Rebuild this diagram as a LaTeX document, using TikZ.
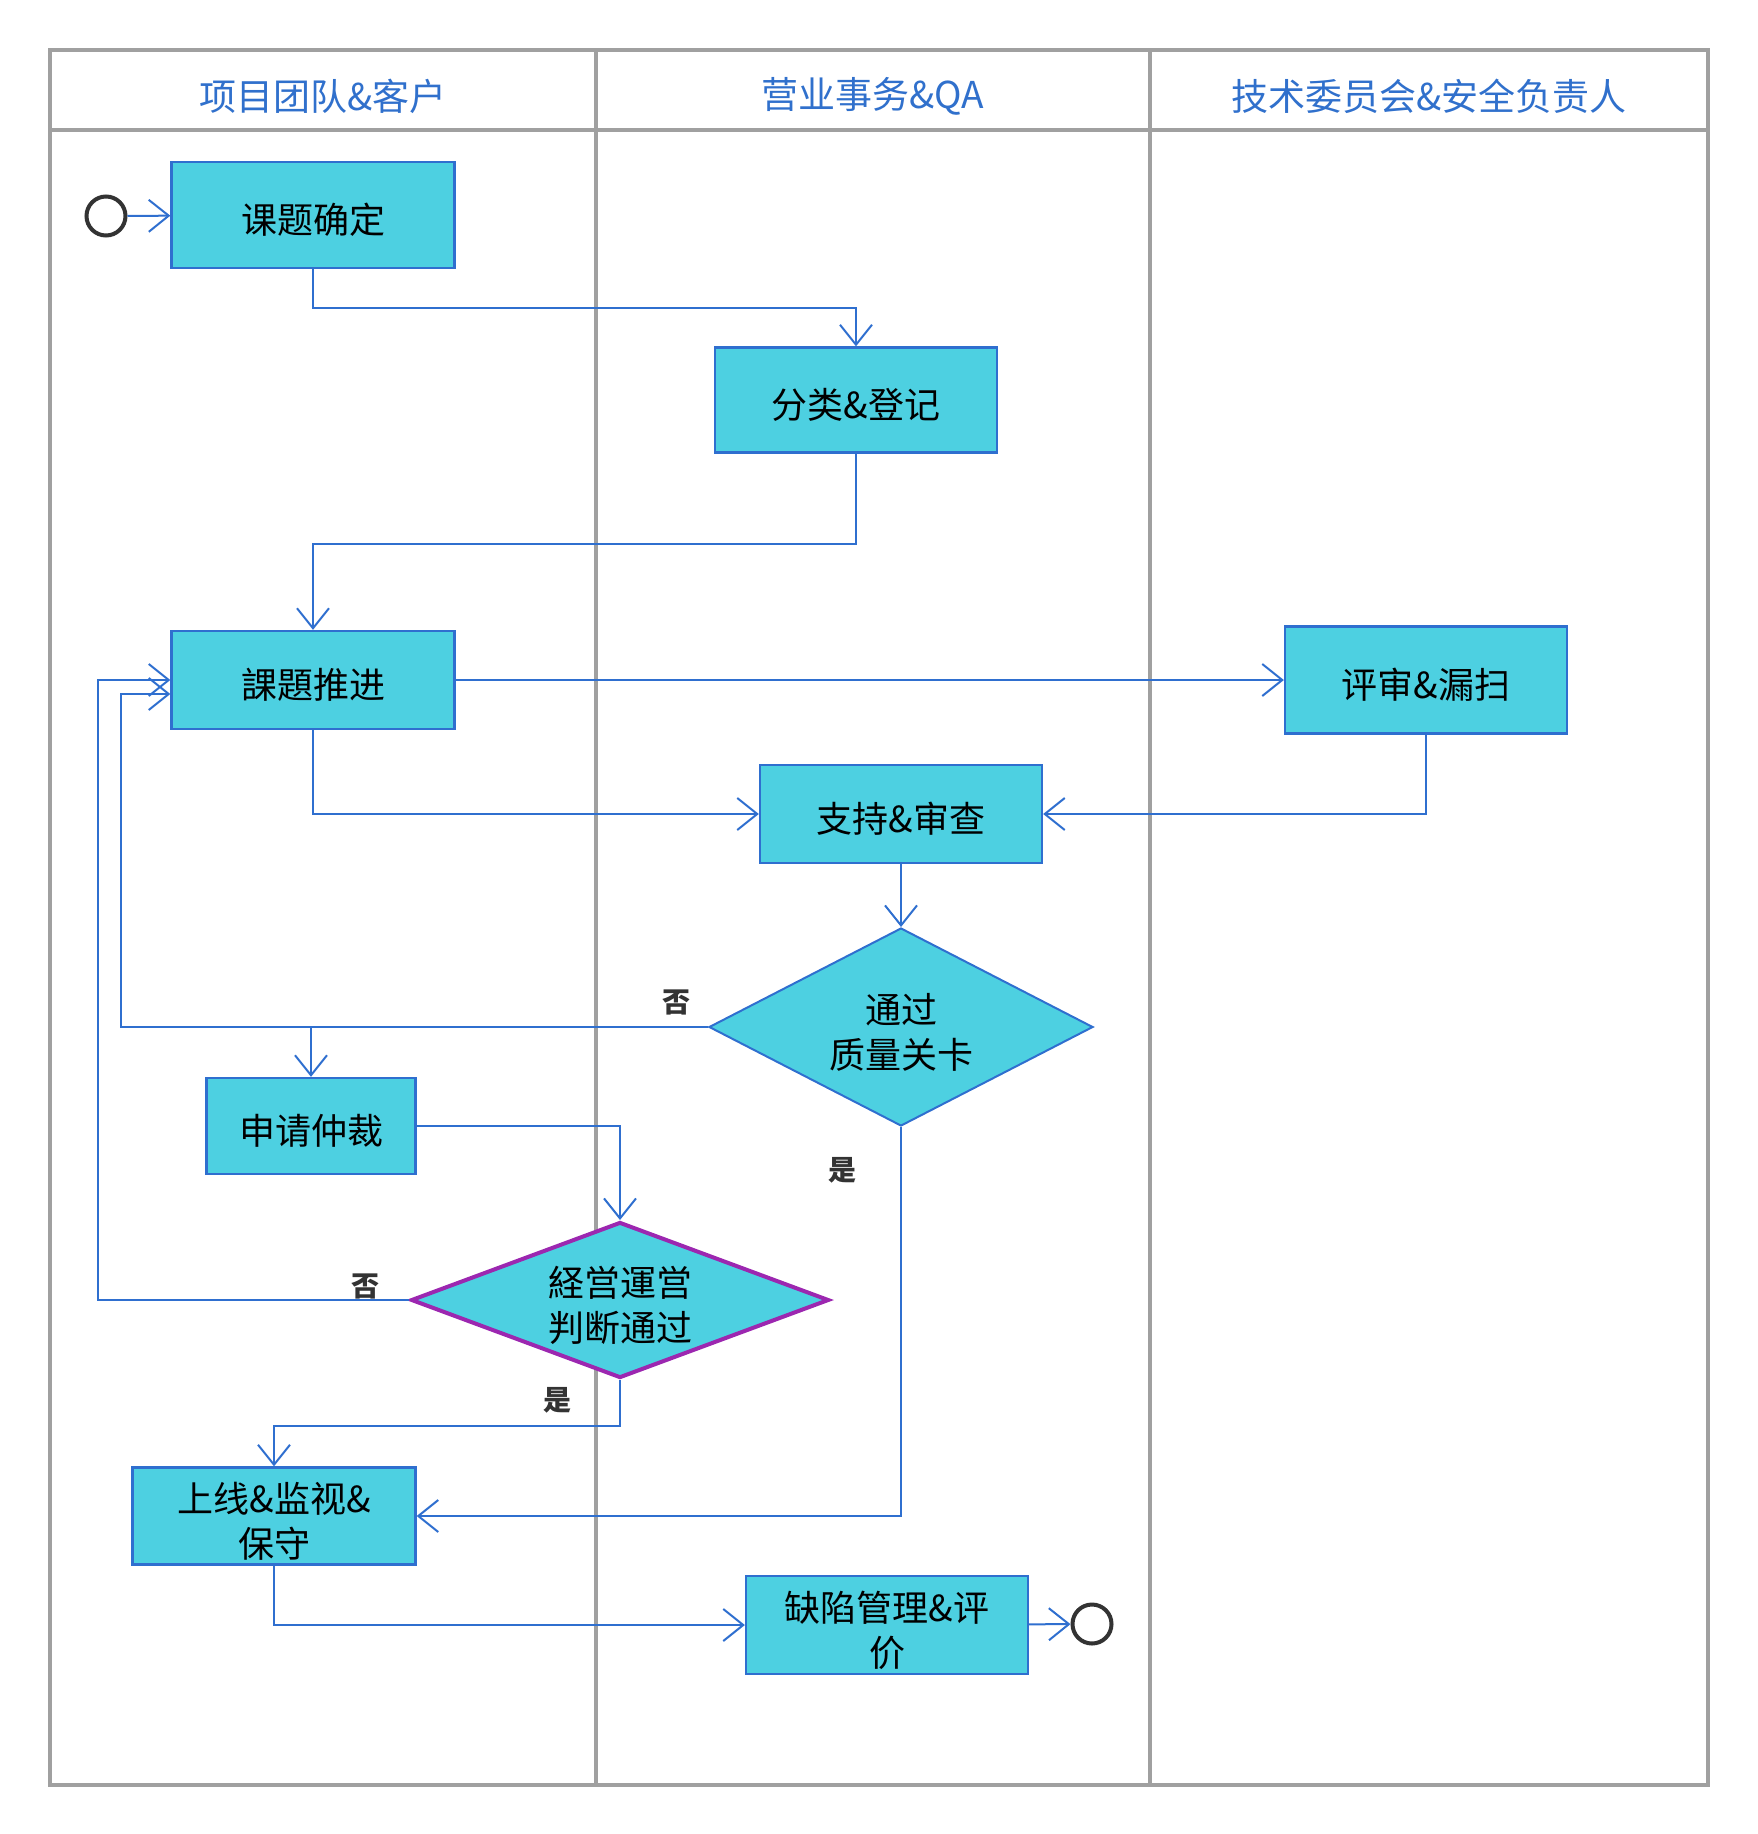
\documentclass[tikz,border=0pt]{standalone}
\usepackage{fontspec}
\setmainfont{Noto Sans CJK SC}
\usepackage{xcolor}
\usepackage{tikz}
\usetikzlibrary{positioning,shapes.geometric,arrows.meta}
\definecolor{boxfill}{HTML}{4DD0E1}
\definecolor{boxline}{HTML}{2F6FCF}
\definecolor{lanegray}{HTML}{A0A0A0}
\definecolor{decpurple}{HTML}{9C27B0}
\definecolor{titleblue}{HTML}{3070CC}
\newcommand{\lowtext}[1]{\raisebox{-5pt}[\height][\depth]{#1}}

\begin{document}
\begin{tikzpicture}[x=1pt,y=-1pt,
    every node/.style={font=\fontsize{36}{45}\selectfont},
    act/.style={draw=boxline,line width=2.3pt,fill=boxfill,minimum width=283pt,
      minimum height=98pt,align=center,inner sep=0pt},
    dec/.style={diamond,draw=boxline,line width=2pt,fill=boxfill,align=center,inner sep=0pt},
    term/.style={circle,draw=black!80,line width=4pt,minimum size=39pt,inner sep=0pt},
    flow/.style={draw=boxline,line width=2pt,-{Straight Barb[length=20pt,width=32pt]}},
    lbl/.style={font=\fontsize{28}{30}\bfseries,text=black!80},
    head/.style={text=titleblue,font=\fontsize{37}{45}\selectfont},
    lane/.style={draw=lanegray,line width=4pt}]
    \useasboundingbox (0,0) rectangle (1758,1834);
    % lanes
    \draw[lane] (50,50) rectangle (1708,1785);
    \draw[lane] (50,130) -- (1708,130);
    \draw[lane] (596,50) -- (596,1785);
    \draw[lane] (1150,50) -- (1150,1785);
    \node[head] (TD) at (323,96) {项目团队\&客户};
    \node[head] (YY) at (873,96) {营业事务\&QA};
    \node[head] (JS) at (1429,96) {技术委员会\&安全负责人};
    % nodes
    \node[term] (S) at (106,216) {};
    \node[act,minimum height=106pt] (KTQD) at (313,215) {\lowtext{课题确定}};
    \node[act,minimum width=282pt,minimum height=105pt] (FLDJ) at (856,400) {\lowtext{分类\&登记}};
    \node[act] (KTTJ) at (313,680) {\lowtext{課題推进}};
    \node[act,minimum width=282pt,minimum height=107pt] (PSLS) at (1426,680) {\lowtext{评审\&漏扫}};
    \node[act,minimum width=282pt] (ZCSC) at (901,814) {\lowtext{支持\&审查}};
    \node[dec,aspect=1.94,minimum width=384pt,minimum height=198pt] (ZLGK) at (901,1027)
      {\lowtext{通过}\\\lowtext{质量关卡}};
    \node[act,minimum width=209pt,minimum height=96pt] (SQZC) at (311,1126) {\lowtext{申请仲裁}};
    \node[dec,aspect=2.68,draw=decpurple,line width=4pt,minimum width=418pt,minimum height=156pt]
      (JYPD) at (620,1300) {\lowtext{経営運営}\\\lowtext{判断通过}};
    \node[act,minimum height=97pt] (SXBS) at (274,1516) {\lowtext{上线\&监视\&}\\\lowtext{保守}};
    \node[act,minimum width=282pt] (QXGL) at (887,1625) {\lowtext{缺陷管理\&评}\\\lowtext{价}};
    \node[term] (E) at (1092,1624) {};
    % connectors
    \draw[flow] (S) -- (KTQD);
    \draw[flow] (KTQD.south) -- ++(0,39) -| (FLDJ.north);
    \draw[flow] (FLDJ.south) -- ++(0,90) -| (KTTJ.north);
    \draw[flow] (KTTJ) -- (PSLS);
    \draw[flow] (KTTJ.south) |- (ZCSC.west);
    \draw[flow] (PSLS.south) |- (ZCSC.east);
    \draw[flow] (ZCSC) -- (ZLGK);
    \draw[flow] (ZLGK.west) -- ++(-587,0) |- ([yshift=-14pt]KTTJ.west);
    \draw[flow] (SQZC.north |- ZLGK.west) -- (SQZC.north);
    \draw[flow] (SQZC.east) -| (JYPD.north);
    \draw[flow] (JYPD.west) -- ++(-311,0) |- (KTTJ.west);
    \draw[flow] (JYPD.south) -- ++(0,46) -| (SXBS.north);
    \draw[flow] (ZLGK.south) |- (SXBS.east);
    \draw[flow] (SXBS.south) |- (QXGL.west);
    \draw[flow] (QXGL) -- (E);
    % labels
    \node[lbl] (N1) at (676,1002) {否};
    \node[lbl] (Y1) at (842,1170) {是};
    \node[lbl] (N2) at (365,1286) {否};
    \node[lbl] (Y2) at (557,1400) {是};
  \end{tikzpicture}
\end{document}
